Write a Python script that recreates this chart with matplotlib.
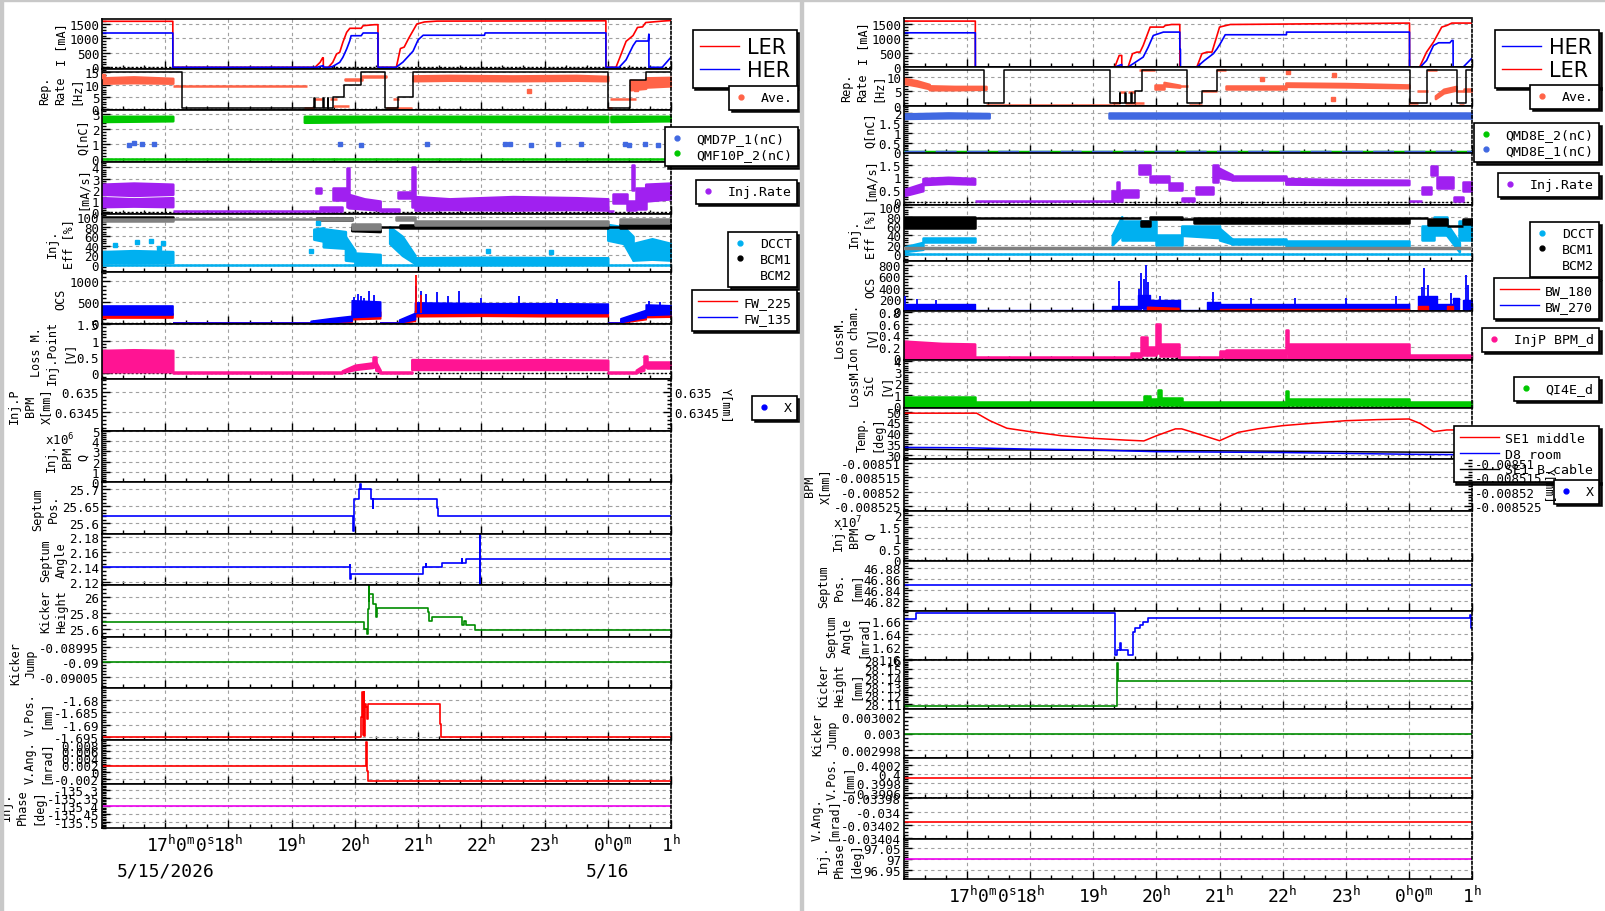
import numpy as np
import matplotlib
matplotlib.use("Agg")
import matplotlib.pyplot as plt
import matplotlib.transforms as mtransforms
from matplotlib.lines import Line2D
from matplotlib.patches import Rectangle
from matplotlib.ticker import AutoMinorLocator, FuncFormatter, MultipleLocator

nan = float("nan")

# time axis in hours since 5/15 00:00 (24 = 0h on 5/16)
HOUR_TICKS = [17, 18, 19, 20, 21, 22, 23, 24, 25]
HOUR_LABELS = ["", "18$^h$", "19$^h$", "20$^h$", "21$^h$", "22$^h$", "23$^h$", "", "1$^h$"]
FIRST_LABEL = "17$^h$0$^m$0$^s$"
MIDNIGHT_LABEL = "0$^h$0$^m$"
DATE_HOURS = [17, 24]
DATE_LABELS = ["5/15/2026", "5/16"]

# ======================= left column =======================
L_LER_T = [16.0, 17.12, 17.121, 19.37, 19.45, 19.49, 19.5, 19.501, 19.58, 19.65,
           19.71, 19.76, 19.81, 19.87, 19.92, 20.10, 20.13, 20.31, 20.365, 20.366,
           20.655, 20.72, 20.78, 20.85, 20.98, 21.1, 21.3, 23.97, 23.971, 24.13,
           24.29, 24.4, 24.47, 24.55, 24.6, 24.86, 25.0]
L_LER = [1593, 1593, 0, 0, 173, 330, 330, 0, 0, 173,
         461, 520, 866, 1212, 1351, 1351, 1441, 1476, 1476, 0,
         0, 650, 700, 1000, 1500, 1570, 1600, 1610, 0, 0,
         900, 1100, 1380, 1400, 1550, 1600, 1620]
L_HER_T = [16.0, 17.12, 17.121, 19.4, 19.49, 19.5, 19.501, 19.58, 19.65, 19.76,
           19.81, 19.87, 19.92, 19.94, 20.10, 20.13, 20.365, 20.366, 20.65, 20.76,
           20.92, 21.0, 21.08, 22.05, 22.06, 23.97, 23.971, 24.18, 24.29, 24.4,
           24.45, 24.64, 24.65, 24.651, 24.86, 25.0]
L_HER = [1188, 1188, 0, 0, 55, 60, 0, 0, 30, 173,
         346, 634, 921, 1094, 1094, 1188, 1188, 0, 0, 180,
         560, 950, 1110, 1110, 1190, 1190, 0, 0, 260, 750,
         910, 910, 1150, 0, 0, 350]

L_REP_T = [16.0, 17.26, 19.36, 19.37, 19.5, 19.51, 19.57, 19.58, 19.65, 19.82,
           20.09, 20.47, 20.68, 20.92, 24.0, 24.35, 24.6, 25.0]
L_REP = [15, 0.5, 4.5, 0.5, 4.5, 0.5, 4.5, 0.5, 5, 10,
         15, 0.5, 5, 15, 0.5, 12, 15, 15]

L_AVE_T = [16.0, 16.5, 17.12, nan, 17.12, 19.25, nan, 19.2, 19.36, nan,
           19.36, 19.48, nan, 19.6, 19.72, nan, 19.65, 19.9, nan,
           19.85, 20.12, nan, 20.12, 20.5, nan, 20.5, 20.9, nan, 20.6, 20.7, nan,
           20.92, 21.5, 22.5, 23.5, 24.0, nan, 24.0, 24.06, nan, 24.04, 24.44, nan,
           24.36, 24.6, nan, 24.6, 25.0]
L_AVE_LO = [10.6, 10.8, 10.6, nan, 9.3, 9.3, nan, 0.6, 0.6, nan,
            4.3, 4.3, nan, 4.3, 4.3, nan, 1.2, 1.2, nan,
            12.0, 12.0, nan, 13.3, 13.3, nan, 0.5, 0.5, nan, 4.3, 4.3, nan,
            11.6, 11.8, 11.6, 11.8, 11.6, nan, 0.3, 0.3, nan, 4.3, 4.3, nan,
            7.9, 8.5, nan, 9.0, 9.5]
L_AVE_HI = [12.8, 13.2, 12.6, nan, 9.3, 9.3, nan, 0.6, 0.6, nan,
            4.3, 4.3, nan, 4.3, 4.3, nan, 1.2, 1.2, nan,
            12.3, 12.3, nan, 13.6, 13.6, nan, 0.5, 0.5, nan, 4.3, 4.3, nan,
            13.6, 13.8, 13.6, 13.8, 13.4, nan, 0.3, 0.3, nan, 4.3, 4.3, nan,
            11.8, 11.5, nan, 12.8, 13.0]
L_AVE_DOT_T = [16.02, 22.75, 24.45]
L_AVE_DOT = [13.5, 7.4, 8.3]

L_Q2_T = [16.0, 17.12, nan, 19.2, 20.5, 22.0, 24.0, nan, 24.05, 25.0, nan, 16.0, 25.0]
L_Q2_LO = [2.5, 2.55, nan, 2.45, 2.5, 2.5, 2.5, nan, 2.5, 2.55, nan, 0.0, 0.0]
L_Q2_HI = [2.85, 2.85, nan, 2.85, 2.85, 2.85, 2.85, nan, 2.85, 2.85, nan, 0.0, 0.0]
L_Q1_T = [16.42, 16.51, 16.64, 16.82, 19.76, 20.10, 21.14, 22.37, 22.45, 22.79,
          23.22, 23.58, 24.27, 24.33, 24.59, 24.80]
L_Q1 = [0.95, 1.05, 0.98, 0.97, 1.0, 0.95, 1.0, 1.0, 1.0, 0.95,
        1.0, 1.0, 1.0, 0.95, 1.0, 0.95]

L_RATE_T = [16.0, 16.5, 17.12, nan, 16.0, 16.5, 17.12, nan, 17.12, 19.45, nan,
            19.38, 19.47, nan, 19.45, 19.8, nan, 19.66, 19.86, nan, 19.87, 19.9, nan,
            19.9, 20.15, 20.4, nan, 20.4, 20.7, nan, 20.68, 20.9, nan, 20.9, 20.95, nan,
            20.95, 21.5, 22.5, 23.5, 24.0, nan, 24.0, 24.1, nan, 24.08, 24.3, nan,
            24.3, 24.45, nan, 24.38, 24.42, nan, 24.45, 24.6, nan, 24.6, 25.0]
L_RATE_LO = [0.5, 0.55, 0.5, nan, 1.6, 1.5, 1.6, nan, 0.12, 0.12, nan,
             1.7, 1.7, nan, 0.1, 0.1, nan, 1.1, 1.1, nan, 0.5, 0.5, nan,
             0.4, 0.3, 0.2, nan, 0.1, 0.1, nan, 1.3, 1.3, nan, 0.5, 0.5, nan,
             0.2, 0.25, 0.2, 0.25, 0.2, nan, 0.1, 0.1, nan, 0.8, 0.8, nan,
             0.2, 0.2, nan, 2.0, 2.0, nan, 0.3, 0.3, nan, 1.0, 1.2]
L_RATE_HI = [1.3, 1.2, 1.3, nan, 2.5, 2.6, 2.5, nan, 0.12, 0.12, nan,
             2.2, 2.2, nan, 0.5, 0.5, nan, 2.2, 2.2, nan, 3.9, 3.9, nan,
             1.6, 1.2, 1.0, nan, 0.3, 0.3, nan, 1.8, 1.8, nan, 4.0, 4.0, nan,
             1.4, 1.2, 1.4, 1.3, 1.2, nan, 0.1, 0.1, nan, 1.6, 1.6, nan,
             1.0, 1.0, nan, 4.2, 4.2, nan, 2.2, 2.2, nan, 2.5, 2.6]

L_DCCT_T = [16.0, 25.0, nan, 16.0, 16.5, 17.12, nan, 19.35, 19.5, nan, 19.5, 19.85, nan,
            19.85, 20.0, nan, 20.0, 20.4, nan, 20.55, 20.75, 20.95, nan,
            20.95, 22.0, 24.0, nan, 24.0, 24.25, 24.4, nan, 24.4, 24.7, 25.0]
L_DCCT_LO = [0, 0, nan, 5, 4, 5, nan, 54, 50, nan, 38, 35, nan,
             10, 8, nan, 2, 2, nan, 45, 20, 3, nan,
             2, 2, 2, nan, 52, 45, 10, nan, 10, 12, 10]
L_DCCT_HI = [0, 0, nan, 28, 30, 28, nan, 75, 78, nan, 76, 70, nan,
             60, 30, nan, 25, 22, nan, 80, 60, 20, nan,
             15, 16, 15, nan, 85, 80, 60, nan, 45, 55, 45]
L_DCCT_DOT_T = [16.2, 16.55, 16.78, 16.9, 16.96, 19.3, 19.42, 22.1, 23.1]
L_DCCT_DOT = [42, 48, 50, 36, 45, 30, 88, 30, 28]
L_BCM1_T = [16.0, 17.12, nan, 19.4, 19.95, nan, 19.95, 20.4, nan, 20.4, 20.72, nan,
            20.72, 22.0, 24.0, nan, 24.0, 24.2, nan, 24.2, 25.0]
L_BCM1_LO = [96, 96, nan, 94, 94, nan, 72, 70, nan, 80, 80, nan,
             77, 77, 77, nan, 80, 80, nan, 78, 78]
L_BCM1_HI = [101, 101, nan, 99, 99, nan, 80, 80, nan, 80, 80, nan,
             84, 84, 84, nan, 80, 80, nan, 86, 86]
L_BCM2_T = [16.0, 17.12, nan, 17.12, 19.4, nan, 19.4, 19.95, nan, 19.95, 20.4, nan,
            20.65, 20.95, nan, 20.95, 22.0, 24.0, nan, 24.2, 25.0]
L_BCM2_LO = [92, 92, nan, 96, 96, nan, 95, 95, nan, 76, 76, nan,
             94, 94, nan, 84, 84, 84, nan, 88, 88]
L_BCM2_HI = [97, 97, nan, 96, 96, nan, 99, 99, nan, 86, 86, nan,
             101, 101, nan, 92, 92, 92, nan, 96, 96]

L_OCS_T = [16.0, 17.12, nan, 17.12, 19.3, nan, 19.3, 19.6, 19.95, nan, 19.95, 20.4, nan,
           20.4, 20.7, nan, 20.7, 20.95, nan, 20.95, 22.0, 23.0, 24.0, nan,
           24.0, 24.2, nan, 24.2, 24.6, nan, 24.6, 25.0]
L_FW135_LO = [200, 200, nan, 0, 0, nan, 10, 30, 60, nan, 150, 180, nan,
              0, 0, nan, 20, 100, nan, 250, 260, 250, 250, nan,
              0, 0, nan, 30, 150, nan, 200, 220]
L_FW135_HI = [410, 410, nan, 15, 15, nan, 60, 120, 180, nan, 550, 520, nan,
              20, 20, nan, 90, 250, nan, 500, 480, 480, 470, nan,
              15, 15, nan, 120, 320, nan, 450, 430]
L_FW225_LO = [120, 120, nan, 0, 0, nan, 5, 20, 40, nan, 100, 120, nan,
              0, 0, nan, 10, 60, nan, 170, 180, 170, 170, nan,
              0, 0, nan, 20, 100, nan, 150, 160]
L_FW225_HI = [230, 230, nan, 10, 10, nan, 30, 70, 100, nan, 300, 280, nan,
              10, 10, nan, 60, 150, nan, 300, 290, 290, 280, nan,
              10, 10, nan, 80, 220, nan, 260, 260]
L_FW135_SPK_T = [19.98, 20.05, 20.1, 20.15, 20.22, 20.3, 20.97, 21.05, 21.12, 21.3,
                 21.48, 21.65, 22.0, 22.6, 23.2, 24.65, 24.82]
L_FW135_SPK = [620, 700, 640, 600, 760, 680, 900, 780, 700, 740,
               640, 780, 600, 640, 580, 540, 520]
L_FW225_SPK_T = [20.97, 21.05]
L_FW225_SPK = [1150, 680]

L_LOSS_T = [16.0, 16.5, 17.12, nan, 17.12, 19.8, nan, 19.8, 20.0, 20.28, nan,
            20.28, 20.33, nan, 20.33, 20.4, nan, 20.4, 20.9, nan,
            20.9, 22.0, 23.0, 24.0, nan, 24.0, 24.45, nan, 24.45, 24.57, nan,
            24.57, 24.62, nan, 24.62, 25.0]
L_LOSS_LO = [0.05, 0.05, 0.05, nan, 0, 0, nan, 0.03, 0.12, 0.18, nan,
             0.2, 0.2, nan, 0.1, 0.05, nan, 0, 0, nan,
             0.12, 0.12, 0.12, 0.12, nan, 0, 0, nan, 0.03, 0.1, nan,
             0.2, 0.2, nan, 0.15, 0.15]
L_LOSS_HI = [0.7, 0.72, 0.7, nan, 0.03, 0.03, nan, 0.08, 0.25, 0.32, nan,
             0.5, 0.5, nan, 0.35, 0.1, nan, 0.03, 0.03, nan,
             0.42, 0.4, 0.42, 0.4, nan, 0.04, 0.04, nan, 0.1, 0.25, nan,
             0.53, 0.53, nan, 0.35, 0.35]

L_SEPPOS_T = [16.0, 19.97, 19.98, 20.06, 20.08, 20.09, 20.26, 20.28, 20.29, 21.30, 21.31, 25.0]
L_SEPPOS = [25.622, 25.578, 25.67, 25.70, 25.715, 25.70, 25.67, 25.645, 25.67, 25.645, 25.622, 25.622]
L_SEPANG_T = [16.0, 19.92, 19.925, 19.94, 21.076, 21.12, 21.125, 21.38, 21.69, 21.70,
              21.76, 21.976, 21.977, 21.978, 25.0]
L_SEPANG = [2.14, 2.143, 2.125, 2.131, 2.14, 2.145, 2.14, 2.1453, 2.151, 2.1453,
            2.151, 2.10, 2.20, 2.151, 2.151]
L_KICKH_T = [16.0, 20.15, 20.19, 20.2, 20.22, 20.225, 20.23, 20.28, 20.29, 20.34,
             20.35, 21.155, 21.18, 21.22, 21.69, 21.72, 21.74, 21.75, 21.90, 25.0]
L_KICKH = [25.69, 25.60, 25.54, 25.85, 26.15, 25.95, 26.04, 26.04, 25.92, 25.75,
           25.86, 25.81, 25.70, 25.75, 25.65, 25.70, 25.70, 25.65, 25.585, 25.585]
L_KICKJ_T = [16.0, 25.0]
L_KICKJ = [-0.09, -0.09]
L_VPOS_T = [16.0, 20.10, 20.12, 20.13, 20.14, 20.15, 20.16, 20.18, 20.19, 20.2,
            21.34, 21.345, 21.36, 25.0]
L_VPOS = [-1.695, -1.687, -1.6767, -1.694, -1.6767, -1.6945, -1.6815, -1.683, -1.6875, -1.6818,
          -1.6815, -1.6897, -1.695, -1.695]
L_VANG_T = [16.0, 20.17, 20.18, 20.185, 20.2, 25.0]
L_VANG = [0.0017, 0.0020, 0.0086, 0.0005, -0.0026, -0.0026]
L_PHASE_T = [16.0, 25.0]
L_PHASE = [-135.4, -135.4]

# ======================= right column =======================
R_LER_T = [16.0, 17.13, 17.131, 19.34, 19.41, 19.45, 19.451, 19.55, 19.62, 19.69,
           19.74, 19.79, 19.87, 19.9, 20.11, 20.14, 20.24, 20.37, 20.371, 20.64,
           20.72, 20.8, 20.88, 20.96, 21.0, 21.17, 24.01, 24.011, 24.17, 24.28,
           24.39, 24.52, 24.6, 24.68, 25.0]
R_LER = [1597, 1597, 0, 0, 403, 403, 0, 0, 462, 520,
         520, 750, 1215, 1389, 1389, 1444, 1479, 1479, 0, 0,
         462, 520, 520, 1097, 1389, 1479, 1528, 0, 0, 520,
         868, 1389, 1444, 1528, 1528]
R_HER_T = [16.0, 17.13, 17.131, 19.34, 19.45, 19.451, 19.55, 19.63, 19.79, 19.87,
           19.95, 20.11, 20.37, 20.371, 20.38, 20.381, 20.64, 20.76, 20.9, 20.96,
           21.01, 21.09, 22.06, 22.061, 24.01, 24.011, 24.18, 24.28, 24.39, 24.47,
           24.65, 24.68, 24.70, 24.701, 24.86, 25.0]
R_HER = [1190, 1190, 0, 0, 90, 0, 0, 115, 347, 694,
         1097, 1215, 1215, 620, 620, 0, 0, 229, 462, 635,
         809, 1123, 1123, 1215, 1215, 0, 0, 229, 750, 844,
         844, 924, 924, 0, 0, 312]

R_REP_T = [16.0, 17.27, 17.59, 19.26, 19.42, 19.43, 19.5, 19.51, 19.6, 19.61,
           19.66, 19.77, 20.49, 20.72, 20.96, 24.01, 24.28, 24.76, 24.9, 25.0]
R_REP = [12.6, 0.94, 12.6, 0.94, 4.5, 0.94, 4.5, 0.94, 4.5, 0.94,
         5.1, 12.6, 0.94, 5.1, 12.6, 0.94, 12.6, 0.94, 12.6, 12.6]

R_AVE_T = [16.0, 16.2, 16.4, nan, 16.4, 16.8, 17.3, nan, 17.3, 19.3, nan, 19.3, 19.42, nan,
           19.42, 19.5, nan, 19.55, 19.66, nan, 19.5, 19.8, nan, 19.73, 19.97, nan,
           19.97, 20.12, nan, 20.12, 20.37, nan, 20.37, 20.5, nan, 20.52, 20.72, nan,
           20.72, 20.96, nan, 20.95, 21.1, nan, 21.1, 22.05, nan, 22.05, 23.0, 24.0, nan,
           24.0, 24.15, nan, 24.13, 24.3, nan, 24.28, 24.45, nan, 24.42, 24.55, 24.75, nan,
           24.75, 24.88, nan, 24.8, 24.88, nan, 24.88, 25.0]
R_AVE_LO = [7.8, 7.0, 6.0, nan, 5.6, 5.6, 5.8, nan, 0.2, 0.2, nan, 1.0, 1.0, nan,
            4.8, 4.8, nan, 4.8, 4.8, nan, 1.0, 1.0, nan, 12.4, 12.4, nan,
            6.0, 6.0, nan, 7.0, 6.5, nan, 6.8, 6.8, nan, 0.3, 0.3, nan,
            5.0, 5.0, nan, 12.4, 12.4, nan, 5.8, 5.8, nan, 6.8, 6.6, 6.3, nan,
            1.0, 1.0, nan, 5.0, 5.0, nan, 12.4, 12.4, nan, 2.5, 4.5, 5.5, nan,
            5.0, 5.0, nan, 0.3, 0.3, nan, 5.0, 5.0]
R_AVE_HI = [9.6, 8.8, 7.5, nan, 7.0, 6.8, 6.8, nan, 0.2, 0.2, nan, 1.0, 1.0, nan,
            4.8, 4.8, nan, 4.8, 4.8, nan, 1.0, 1.0, nan, 12.4, 12.4, nan,
            7.3, 7.3, nan, 8.2, 7.2, nan, 6.8, 6.8, nan, 0.3, 0.3, nan,
            5.0, 5.0, nan, 12.4, 12.4, nan, 7.0, 7.0, nan, 8.0, 7.8, 7.3, nan,
            1.0, 1.0, nan, 5.0, 5.0, nan, 12.4, 12.4, nan, 3.5, 5.8, 6.8, nan,
            5.0, 5.0, nan, 0.3, 0.3, nan, 6.0, 6.0]
R_AVE_DOT_T = [21.67, 22.09, 22.81, 22.80]
R_AVE_DOT = [9.4, 11.9, 10.8, 2.4]

R_Q1_T = [16.0, 16.7, 17.35, nan, 19.25, 22.0, 25.0]
R_Q1_LO = [1.72, 1.75, 1.75, nan, 1.75, 1.75, 1.75]
R_Q1_HI = [1.95, 2.0, 1.97, nan, 2.0, 2.0, 2.0]
R_QZERO_T = [16.0, 25.0]
R_QZERO = [0.0, 0.0]

R_RATE_T = [16.0, 16.3, nan, 16.3, 16.7, 17.12, nan, 17.12, 19.3, nan, 19.3, 19.45, nan,
            19.38, 19.41, nan, 19.45, 19.7, nan, 19.73, 19.9, nan, 19.9, 20.2, nan,
            20.2, 20.4, nan, 20.4, 20.6, nan, 20.62, 20.9, nan, 20.9, 20.97, nan,
            20.97, 21.2, nan, 21.2, 22.05, nan, 22.05, 23.0, 24.0, nan, 24.0, 24.2, nan,
            24.2, 24.35, nan, 24.35, 24.45, nan, 24.45, 24.7, nan, 24.72, 24.85, nan,
            24.85, 25.0]
R_RATE_LO = [0.25, 0.45, nan, 0.7, 0.75, 0.72, nan, 0.02, 0.02, nan, 0.05, 0.05, nan,
             0.4, 0.4, nan, 0.2, 0.2, nan, 1.15, 1.15, nan, 0.8, 0.8, nan,
             0.5, 0.5, nan, 0.02, 0.02, nan, 0.3, 0.3, nan, 0.8, 0.8, nan,
             1.0, 0.9, nan, 0.9, 0.9, nan, 0.72, 0.7, 0.7, nan, 0.03, 0.03, nan,
             0.3, 0.3, nan, 1.1, 1.1, nan, 0.55, 0.55, nan, 0.05, 0.05, nan,
             0.45, 0.45]
R_RATE_HI = [0.5, 0.75, nan, 0.95, 1.0, 0.95, nan, 0.02, 0.02, nan, 0.45, 0.45, nan,
             0.8, 0.8, nan, 0.5, 0.5, nan, 1.5, 1.5, nan, 1.05, 1.05, nan,
             0.75, 0.75, nan, 0.15, 0.15, nan, 0.6, 0.6, nan, 1.5, 1.5, nan,
             1.4, 1.1, nan, 1.05, 1.05, nan, 0.95, 0.9, 0.88, nan, 0.03, 0.03, nan,
             0.6, 0.6, nan, 1.45, 1.45, nan, 1.0, 1.0, nan, 0.2, 0.2, nan,
             0.8, 0.8]

R_DCCT_T = [16.0, 25.0, nan, 16.0, 16.3, nan, 16.3, 17.12, nan, 19.3, 19.45, nan,
            19.45, 20.0, nan, 20.0, 20.4, nan, 20.4, 21.0, nan, 21.0, 21.2, nan,
            21.2, 22.05, nan, 22.05, 24.0, nan, 24.2, 24.4, nan, 24.4, 24.6, nan,
            24.6, 24.8, nan, 24.8, 25.0]
R_DCCT_LO = [0, 0, nan, 5, 10, nan, 25, 25, nan, 20, 40, nan,
             30, 30, nan, 20, 20, nan, 40, 35, nan, 30, 22, nan,
             22, 22, nan, 18, 18, nan, 30, 30, nan, 40, 40, nan,
             40, 5, nan, 30, 30]
R_DCCT_HI = [0, 0, nan, 15, 25, nan, 35, 35, nan, 40, 80, nan,
             70, 70, nan, 40, 40, nan, 60, 60, nan, 55, 32, nan,
             32, 32, nan, 28, 28, nan, 60, 60, nan, 80, 80, nan,
             65, 25, nan, 70, 70]
R_BCM1_T = [16.0, 17.12, nan, 17.12, 19.75, nan, 19.75, 19.9, nan, 19.9, 20.4, nan,
            20.37, 20.6, nan, 20.6, 24.0, nan, 24.0, 24.3, nan, 24.3, 24.6, nan,
            24.6, 24.85, nan, 24.85, 25.0]
R_BCM1_LO = [55, 55, nan, 78, 78, nan, 60, 60, nan, 75, 75, nan,
             75, 75, nan, 67, 67, nan, 78, 78, nan, 62, 62, nan,
             59, 59, nan, 65, 65]
R_BCM1_HI = [80, 80, nan, 78, 78, nan, 70, 70, nan, 80, 80, nan,
             75, 75, nan, 77, 77, nan, 78, 78, nan, 75, 75, nan,
             59, 59, nan, 75, 75]
R_BCM2_T = [16.0, 25.0]
R_BCM2 = [12.2, 12.2]

R_OCS_T = [16.0, 17.12, nan, 17.12, 19.3, nan, 19.3, 19.7, nan, 19.7, 19.9, nan,
           19.9, 20.37, nan, 20.37, 20.8, nan, 20.8, 21.0, nan, 21.0, 24.0, nan,
           24.0, 24.15, nan, 24.15, 24.45, nan, 24.45, 24.7, nan, 24.7, 24.8, nan,
           24.8, 24.85, nan, 24.85, 25.0]
R_BW270_LO = [0, 0, nan, 0, 0, nan, 0, 0, nan, 50, 50, nan,
              10, 10, nan, 0, 0, nan, 10, 10, nan, 10, 10, nan,
              0, 0, nan, 0, 0, nan, 0, 0, nan, 30, 30, nan,
              0, 0, nan, 0, 0]
R_BW270_HI = [120, 120, nan, 8, 8, nan, 80, 80, nan, 280, 280, nan,
              180, 180, nan, 20, 20, nan, 150, 150, nan, 120, 120, nan,
              0, 0, nan, 250, 250, nan, 120, 120, nan, 220, 220, nan,
              0, 0, nan, 180, 180]
R_BW270_SPK_T = [16.02, 16.2, 16.5, 19.4, 19.72, 19.76, 19.8, 19.83, 19.86, 20.05,
                 20.9, 21.5, 22.2, 23.0, 23.8, 24.2, 24.24, 24.3, 24.66, 24.9, 24.93]
R_BW270_SPK = [260, 200, 180, 520, 380, 650, 560, 800, 500, 260,
               320, 220, 230, 220, 260, 420, 740, 450, 300, 620, 450]
R_BW180_T = [19.85, 20.1, 20.35, nan, 21.0, 24.0, nan, 24.15, 24.3, nan, 24.6, 24.7]
R_BW180_LO = [10, 20, 10, nan, 0, 0, nan, 20, 20, nan, 20, 20]
R_BW180_HI = [70, 60, 50, nan, 25, 25, nan, 80, 80, nan, 80, 80]

R_ION_T = [16.0, 16.6, 17.12, nan, 17.12, 19.6, nan, 19.6, 19.75, nan, 19.75, 19.85, nan,
           19.85, 20.0, nan, 20.0, 20.06, nan, 20.06, 20.35, nan, 20.35, 21.0, nan,
           21.0, 21.1, nan, 21.1, 22.05, nan, 22.05, 22.08, nan, 22.08, 24.0, nan,
           24.0, 25.0]
R_ION_LO = [0.0, 0.0, 0.0, nan, 0.0, 0.0, nan, 0.02, 0.02, nan, 0.05, 0.05, nan,
            0.05, 0.05, nan, 0.1, 0.1, nan, 0.04, 0.04, nan, 0.0, 0.0, nan,
            0.02, 0.02, nan, 0.0, 0.0, nan, 0.1, 0.1, nan, 0.0, 0.0, nan,
            0.0, 0.0]
R_ION_HI = [0.3, 0.26, 0.25, nan, 0.03, 0.03, nan, 0.1, 0.1, nan, 0.38, 0.38, nan,
            0.2, 0.2, nan, 0.6, 0.6, nan, 0.25, 0.25, nan, 0.03, 0.03, nan,
            0.12, 0.12, nan, 0.15, 0.15, nan, 0.5, 0.5, nan, 0.25, 0.25, nan,
            0.06, 0.06]

R_SIC_T = [16.0, 17.12, nan, 17.12, 19.8, nan, 19.8, 19.9, nan, 19.9, 20.03, nan,
           20.03, 20.07, nan, 20.07, 20.4, nan, 20.4, 22.05, nan, 22.05, 22.08, nan,
           22.08, 24.0, nan, 24.0, 25.0]
R_SIC_LO = [0.0, 0.0, nan, 0.0, 0.0, nan, 0.1, 0.1, nan, 0.1, 0.1, nan,
            0.2, 0.2, nan, 0.05, 0.05, nan, 0.0, 0.0, nan, 0.2, 0.2, nan,
            0.1, 0.1, nan, 0.0, 0.0]
R_SIC_HI = [0.75, 0.75, nan, 0.35, 0.35, nan, 0.9, 0.9, nan, 0.6, 0.6, nan,
            1.4, 1.4, nan, 0.7, 0.7, nan, 0.3, 0.3, nan, 1.3, 1.3, nan,
            0.6, 0.6, nan, 0.3, 0.3]

R_TEMP_T = [16.0, 17.15, 17.36, 17.63, 18.0, 18.5, 19.0, 19.5, 19.8, 20.0,
            20.3, 20.4, 20.58, 21.0, 21.3, 21.6, 22.0, 22.5, 23.0, 23.5,
            24.0, 24.18, 24.39, 24.6, 24.76, 25.0]
R_SE1_MID = [49.3, 49.3, 45.8, 42.3, 40.7, 38.8, 37.6, 36.8, 36.4, 38.8,
             42.0, 42.0, 40.4, 36.5, 40.4, 42.0, 43.5, 44.7, 45.8, 46.3,
             46.6, 44.5, 40.7, 41.5, 41.5, 38.8]
R_TEMP2_T = [16.0, 17.0, 18.0, 19.0, 20.0, 21.0, 22.0, 23.0, 24.0, 25.0]
R_D8_ROOM = [33.4, 33.2, 32.6, 32.2, 31.4, 31.2, 31.0, 30.6, 30.2, 30.0]
R_SE1_CABLE = [32.6, 32.3, 32.2, 32.0, 31.9, 31.8, 31.6, 31.4, 31.2, 31.1]

R_SEPPOS_T = [16.0, 25.0]
R_SEPPOS = [46.85, 46.85]
R_SEPANG_T = [16.0, 16.19, 19.34, 19.345, 19.37, 19.43, 19.44, 19.46, 19.55, 19.63,
              19.66, 19.74, 19.79, 19.87, 24.97, 24.98, 25.0]
R_SEPANG = [1.6642, 1.6736, 1.6486, 1.607, 1.6148, 1.6267, 1.6148, 1.6148, 1.607, 1.6436,
            1.6498, 1.655, 1.659, 1.6655, 1.6700, 1.6498, 1.6498]
R_KICKH_T = [16.0, 19.37, 19.39, 25.0]
R_KICKH = [28.1074, 28.157, 28.1362, 28.1362]
R_KICKJ_T = [16.0, 25.0]
R_KICKJ = [0.003, 0.003]
R_VPOS_T = [16.0, 25.0]
R_VPOS = [0.39991, 0.39991]
R_VANG_T = [16.0, 25.0]
R_VANG = [-0.034015, -0.034015]
R_PHASE_T = [16.0, 25.0]
R_PHASE = [97.0, 97.0]

# axis settings: (ylim, major step, label)
L_YLIM = [(-69, 1690), (-0.4, 16.3), (-0.2, 3.27), (-0.15, 4.47), (-14.3, 107),
          (-15, 1230), (-0.17, 1.502), (0.634033, 0.635333), (-0.03, 5.0),
          (25.568, 25.72), (2.1164, 2.1844), (25.5, 26.155), (-0.0900857, -0.0899157),
          (-1.6961, -1.6753), (-0.00334, 0.0093), (-135.54, -135.26)]
L_STEP = [500, 5, 1, 1, 20, 500, 0.5, 0.0005, 1, 0.05, 0.02, 0.2, 0.00005, 0.005, 0.002, 0.05]
L_LABELS = ["I [mA]", "Rep.\nRate\n[Hz]", "Q[nC]", "[mA/s]", "Inj.\nEff [%]", "OCS",
            "Loss M.\nInj.Point\n[V]", "Inj.P\nBPM\nX[mm]", "Inj.\nBPM\nQ", "Septum\nPos.",
            "Septum\nAngle", "Kicker\nHeight", "Kicker\nJump", "V.Pos.\n[mm]",
            "V.Ang.\n[mrad]", "Inj.\nPhase\n[deg]"]
R_YLIM = [(-8, 1694), (-0.1, 13.5), (-0.03, 2.35), (-0.12, 1.99), (-14.3, 105.6),
          (-10, 870), (-0.03, 0.82), (-0.2, 4.1), (28, 51.7),
          (-0.0085267, -0.0085086), (-0.03, 2.2), (46.803, 46.894), (1.5995, 1.677),
          (28.1044, 28.1605), (0.0029971, 0.0030029), (0.39949, 0.40034),
          (-0.0340413, -0.0339795), (96.905, 97.095)]
R_STEP = [500, 5, 0.5, 0.5, 20, 200, 0.2, 1, 5, 0.000005, 0.5, 0.02, 0.02, 0.01,
          0.000002, 0.0002, 0.00002, 0.05]
R_LABELS = ["I [mA]", "Rep.\nRate\n[Hz]", "Q[nC]", "[mA/s]", "Inj.\nEff [%]", "OCS",
            "LossM.\nIon cham.\n[V]", "LossM.\nSiC\n[V]", "Temp.\n[deg]", "Inj.P\nBPM\nX[mm]",
            "Inj.\nBPM\nQ", "Septum\nPos.\n[mm]", "Septum\nAngle\n[mrad]",
            "Kicker\nHeight\n[mm]", "Kicker\nJump", "V.Pos.\n[mm]", "V.Ang.\n[mrad]",
            "Inj.\nPhase\n[deg]"]

# colours
RED, BLUE, BLACK = "#ff0000", "#0000ff", "#000000"
TOMATO, ROYAL, LIME = "#ff6347", "#4169e1", "#00c800"
PURPLE, SKY, GRAY = "#a020f0", "#00b0f0", "#808080"
PINK, KGREEN, MAGENTA = "#ff1493", "#008c00", "#ee00ee"

# layout in pixels
W, H = 1606, 912
LEFT_X = (102, 671)
RIGHT_X = (904, 1472)
LEFT_ROWS = [19.5, 70.3, 111, 163, 215, 272.7, 325, 380, 432, 483.3, 535, 586, 638,
             689, 741, 785, 829]
RIGHT_ROWS = [19.3, 68.3, 107, 154, 205.7, 261.7, 312.3, 361, 409, 460, 512, 561.7,
              611.7, 660.7, 710, 759, 799, 840, 880]

plt.rcParams["font.family"] = "monospace"
plt.rcParams["font.monospace"] = ["DejaVu Sans Mono"]
plt.rcParams["mathtext.default"] = "regular"
plt.rcParams["axes.unicode_minus"] = False

fig = plt.figure(figsize=(W / 100, H / 100), dpi=100, facecolor="white")


def tick_fmt(v, pos):
    v = round(v, 10)
    if v == 0:
        return "0"
    return f"{v:g}"


def make_axes(xr, top, bottom):
    x0, x1 = xr
    return fig.add_axes([x0 / W, 1 - bottom / H, (x1 - x0) / W, (bottom - top) / H])


def style(ax, ylim, step, label):
    ax.set_xlim(16, 25)
    ax.set_ylim(*ylim)
    ax.set_xticks(HOUR_TICKS)
    ax.xaxis.set_minor_locator(MultipleLocator(1 / 3))
    ax.yaxis.set_major_locator(MultipleLocator(step))
    ax.yaxis.set_minor_locator(AutoMinorLocator())
    ax.yaxis.set_major_formatter(FuncFormatter(tick_fmt))
    ax.tick_params(which="both", direction="in", top=False, right=False, width=1,
                   labelsize=9, pad=2)
    ax.tick_params(which="major", length=6)
    ax.tick_params(which="minor", length=3)
    ax.tick_params(axis="x", labelbottom=False)
    ax.grid(True, which="major", color="#a0a0a0", linestyle=(0, (3, 3)), linewidth=0.8)
    ax.set_axisbelow(True)
    for s in ax.spines.values():
        s.set_linewidth(1.2)
    ax.spines["right"].set_linestyle((0, (1.5, 1.5)))
    lo, hi = ylim
    # dotted zero line, drawn where zero sits near the floor of the panel
    if lo < 0 < lo + 0.15 * (hi - lo):
        ax.axhline(0, color="black", linestyle=(0, (1.5, 1.5)), linewidth=1.0, zorder=1.5)
    ax.set_ylabel(label, fontsize=8.5, labelpad=1, linespacing=1.3)


def bands(ax, t, lo, hi, color, lw=1.8, z=2):
    t, lo, hi = (np.asarray(a, dtype=float) for a in (t, lo, hi))
    cut = np.flatnonzero(np.isnan(t))
    starts = np.r_[0, cut + 1]
    ends = np.r_[cut, len(t)]
    for s, e in zip(starts, ends):
        if e - s >= 2:
            ax.fill_between(t[s:e], lo[s:e], hi[s:e], facecolor=color, edgecolor=color,
                            linewidth=lw, zorder=z)


def spikes(ax, t, top, base, color):
    ax.vlines(t, base, top, color=color, linewidth=1.3, zorder=3)


def dots(ax, t, v, color):
    ax.plot(t, v, linestyle="none", marker="s", markersize=2.5, color=color, zorder=3)


def bottom_labels(ax, dates):
    ax.set_xticklabels(HOUR_LABELS)
    ax.tick_params(axis="x", labelbottom=True, labelsize=13, pad=4)
    for hour, text in ((HOUR_TICKS[0], FIRST_LABEL), (HOUR_TICKS[7], MIDNIGHT_LABEL)):
        shift = -13.5 if hour == HOUR_TICKS[0] else -10.5
        tr = mtransforms.offset_copy(ax.get_xaxis_transform(), fig=fig, x=shift, y=-4,
                                     units="points")
        ax.text(hour, 0, text, transform=tr, ha="left", va="top", fontsize=13)
    if dates:
        tr = mtransforms.offset_copy(ax.get_xaxis_transform(), fig=fig, y=-24,
                                     units="points")
        for hour, text in zip(DATE_HOURS, DATE_LABELS):
            ax.text(hour, 0, text, transform=tr, ha="center", va="top", fontsize=13)


def twin_right(ax, ylim, step):
    axr = ax.twinx()
    axr.set_ylim(*ylim)
    axr.yaxis.set_major_locator(MultipleLocator(step))
    axr.yaxis.set_minor_locator(AutoMinorLocator())
    axr.yaxis.set_major_formatter(FuncFormatter(tick_fmt))
    axr.tick_params(which="both", direction="in", labelsize=9, pad=2, width=1)
    axr.tick_params(which="major", length=6)
    axr.tick_params(which="minor", length=3)
    for s in axr.spines.values():
        s.set_visible(False)
    axr.set_ylabel("Y[mm]", fontsize=8.5, rotation=270, labelpad=10)
    # tick labels sit above the neighbouring legends, as in the screenshot
    axr.set_zorder(6)
    return axr


# ---------------- left column ----------------
L = [make_axes(LEFT_X, LEFT_ROWS[i], LEFT_ROWS[i + 1]) for i in range(16)]
for ax, ylim, step, lab in zip(L, L_YLIM, L_STEP, L_LABELS):
    style(ax, ylim, step, lab)

L[0].plot(L_LER_T, L_LER, color=RED, lw=1.2)
L[0].plot(L_HER_T, L_HER, color=BLUE, lw=1.2)

bands(L[1], L_AVE_T, L_AVE_LO, L_AVE_HI, TOMATO)
dots(L[1], L_AVE_DOT_T, L_AVE_DOT, TOMATO)
L[1].step(L_REP_T, L_REP, where="post", color=BLACK, lw=1.1, zorder=3)

bands(L[2], L_Q2_T, L_Q2_LO, L_Q2_HI, LIME)
dots(L[2], L_Q1_T, L_Q1, ROYAL)

bands(L[3], L_RATE_T, L_RATE_LO, L_RATE_HI, PURPLE)

bands(L[4], L_DCCT_T, L_DCCT_LO, L_DCCT_HI, SKY)
dots(L[4], L_DCCT_DOT_T, L_DCCT_DOT, SKY)
bands(L[4], L_BCM1_T, L_BCM1_LO, L_BCM1_HI, BLACK)
bands(L[4], L_BCM2_T, L_BCM2_LO, L_BCM2_HI, GRAY)

bands(L[5], L_OCS_T, L_FW225_LO, L_FW225_HI, RED, lw=1.2)
bands(L[5], L_OCS_T, L_FW135_LO, L_FW135_HI, BLUE, lw=1.2)
spikes(L[5], L_FW135_SPK_T, L_FW135_SPK, 300, BLUE)
spikes(L[5], L_FW225_SPK_T, L_FW225_SPK, 250, RED)

bands(L[6], L_LOSS_T, L_LOSS_LO, L_LOSS_HI, PINK)

L[9].step(L_SEPPOS_T, L_SEPPOS, where="post", color=BLUE, lw=1.2)
L[10].step(L_SEPANG_T, L_SEPANG, where="post", color=BLUE, lw=1.2)
L[11].step(L_KICKH_T, L_KICKH, where="post", color=KGREEN, lw=1.2)
L[12].plot(L_KICKJ_T, L_KICKJ, color=KGREEN, lw=1.2)
L[13].step(L_VPOS_T, L_VPOS, where="post", color=RED, lw=1.2)
L[14].step(L_VANG_T, L_VANG, where="post", color=RED, lw=1.2)
L[15].plot(L_PHASE_T, L_PHASE, color=MAGENTA, lw=1.2)

twin_right(L[7], L_YLIM[7], L_STEP[7])
L[8].text(-0.1, 1.0, "x10$^6$", transform=L[8].transAxes, ha="left", va="top", fontsize=9)
bottom_labels(L[15], True)

# ---------------- right column ----------------
R = [make_axes(RIGHT_X, RIGHT_ROWS[i], RIGHT_ROWS[i + 1]) for i in range(18)]
for ax, ylim, step, lab in zip(R, R_YLIM, R_STEP, R_LABELS):
    style(ax, ylim, step, lab)

R[0].plot(R_LER_T, R_LER, color=RED, lw=1.2)
R[0].plot(R_HER_T, R_HER, color=BLUE, lw=1.2)

bands(R[1], R_AVE_T, R_AVE_LO, R_AVE_HI, TOMATO)
dots(R[1], R_AVE_DOT_T, R_AVE_DOT, TOMATO)
R[1].step(R_REP_T, R_REP, where="post", color=BLACK, lw=1.1, zorder=3)

bands(R[2], R_Q1_T, R_Q1_LO, R_Q1_HI, ROYAL)
R[2].plot(R_QZERO_T, R_QZERO, color=LIME, lw=2.5, zorder=3)
R[2].plot(R_QZERO_T, R_QZERO, color=ROYAL, lw=2.5, linestyle=(0, (6, 3)), zorder=3)

bands(R[3], R_RATE_T, R_RATE_LO, R_RATE_HI, PURPLE)

bands(R[4], R_DCCT_T, R_DCCT_LO, R_DCCT_HI, SKY)
bands(R[4], R_BCM1_T, R_BCM1_LO, R_BCM1_HI, BLACK)
R[4].plot(R_BCM2_T, R_BCM2, color=GRAY, lw=2.5, zorder=3)

bands(R[5], R_OCS_T, R_BW270_LO, R_BW270_HI, BLUE, lw=1.0)
spikes(R[5], R_BW270_SPK_T, R_BW270_SPK, 0, BLUE)
bands(R[5], R_BW180_T, R_BW180_LO, R_BW180_HI, RED, lw=1.0, z=4)

bands(R[6], R_ION_T, R_ION_LO, R_ION_HI, PINK)
bands(R[7], R_SIC_T, R_SIC_LO, R_SIC_HI, LIME)

R[8].plot(R_TEMP_T, R_SE1_MID, color=RED, lw=1.1)
R[8].plot(R_TEMP2_T, R_SE1_CABLE, color=BLACK, lw=1.1)
R[8].plot(R_TEMP2_T, R_D8_ROOM, color=BLUE, lw=1.1)

R[11].plot(R_SEPPOS_T, R_SEPPOS, color=BLUE, lw=1.2)
R[12].step(R_SEPANG_T, R_SEPANG, where="post", color=BLUE, lw=1.2)
R[13].step(R_KICKH_T, R_KICKH, where="post", color=KGREEN, lw=1.2)
R[14].plot(R_KICKJ_T, R_KICKJ, color=KGREEN, lw=1.2)
R[15].plot(R_VPOS_T, R_VPOS, color=RED, lw=1.2)
R[16].plot(R_VANG_T, R_VANG, color=RED, lw=1.2)
R[17].plot(R_PHASE_T, R_PHASE, color=MAGENTA, lw=1.2)
R[12].spines["bottom"].set_linestyle((0, (1.5, 1.5)))
R[15].spines["bottom"].set_linestyle((0, (1.5, 1.5)))

twin_right(R[9], R_YLIM[9], R_STEP[9])
R[10].text(-0.125, 0.94, "x10$^7$", transform=R[10].transAxes, ha="left", va="top", fontsize=9)
clip = mtransforms.TransformedBbox(mtransforms.Bbox([[803 / W, 0], [1, 1]]), fig.transFigure)
R[9].yaxis.label.set_clip_box(clip)
R[9].yaxis.label.set_clip_on(True)
bottom_labels(R[17], False)


# ---------------- legends ----------------
def dot(c):
    return Line2D([], [], linestyle="none", marker="o", markersize=3.5, color=c)


def seg(c):
    return Line2D([], [], color=c, linewidth=1.0)


def blank():
    return Line2D([], [], linestyle="none")


def legend(handles, labels, right, top, kind="dot"):
    kw = dict(loc="upper right", bbox_to_anchor=(right / W, 1 - top / H),
              bbox_transform=fig.transFigure, borderaxespad=0, frameon=True,
              fancybox=False, edgecolor="black", framealpha=1.0,
              shadow={"color": "black", "alpha": 0.9})
    if kind == "big":
        kw.update(prop={"family": "DejaVu Sans", "size": 15}, handlelength=1.9,
                  handletextpad=0.34, borderpad=0.35, labelspacing=0.15)
    elif kind == "line":
        kw.update(fontsize=9.5, handlelength=3.0, handletextpad=0.45, borderpad=0.45,
                  labelspacing=0.2)
    else:
        kw.update(fontsize=9.5, handlelength=1.0, handletextpad=1.0, borderpad=0.4,
                  labelspacing=0.2)
    leg = fig.legend(handles, labels, **kw)
    leg.get_frame().set_linewidth(1.2)
    return leg


legend([seg(RED), seg(BLUE)], ["LER", "HER"], 797, 31, "big")
legend([dot(TOMATO)], ["Ave."], 798, 87)
legend([dot(ROYAL), dot(LIME)], ["QMD7P_1(nC)", "QMF10P_2(nC)"], 798, 128)
legend([dot(PURPLE)], ["Inj.Rate"], 797, 181)
legend([dot(SKY), dot(BLACK), blank()], ["DCCT", "BCM1", "BCM2"], 797, 233)
legend([seg(RED), seg(BLUE)], ["FW_225", "FW_135"], 797, 291, "line")
legend([dot(BLUE)], ["X"], 797, 397)

legend([seg(BLUE), seg(RED)], ["HER", "LER"], 1599, 31, "big")
legend([dot(TOMATO)], ["Ave."], 1599, 86)
legend([dot(LIME), dot(ROYAL)], ["QMD8E_2(nC)", "QMD8E_1(nC)"], 1599, 124)
legend([dot(PURPLE)], ["Inj.Rate"], 1599, 174)
legend([dot(SKY), dot(BLACK), blank()], ["DCCT", "BCM1", "BCM2"], 1599, 223)
legend([seg(RED), seg(BLUE)], ["BW_180", "BW_270"], 1599, 279, "line")
legend([dot(PINK)], ["InjP BPM_d"], 1599, 329)
legend([dot(LIME)], ["QI4E_d"], 1599, 378)
legend([seg(RED), seg(BLUE), seg(BLACK)], ["SE1 middle", "D8 room", "SE1 B.cable"],
       1599, 427, "line")
legend([dot(BLUE)], ["X"], 1599, 481)

# frame lines of the screenshot
for rect in [(0, 0, 3, H), (0, 0, W, 2), (800, 0, 3, H)]:
    x, y, w, h = rect
    fig.add_artist(Rectangle((x / W, 1 - (y + h) / H), w / W, h / H,
                             transform=fig.transFigure, color="#c8c8c8", zorder=10))

fig.savefig("out.png", dpi=100)
